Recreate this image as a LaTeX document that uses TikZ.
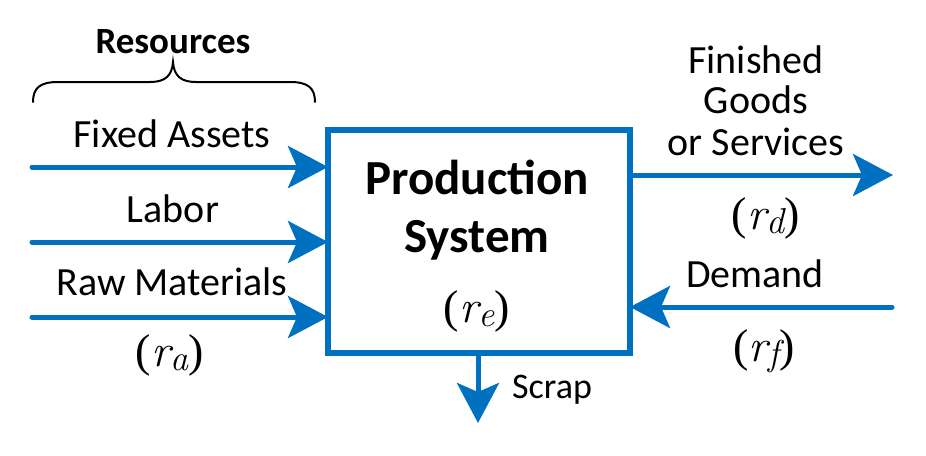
\documentclass[tikz,border=0pt]{standalone}
\usepackage{fontspec}
\setmainfont{Carlito}
\newfontfamily\tms{Liberation Serif}
\newfontfamily\lmi{Latin Modern Roman}
\usetikzlibrary{arrows.meta}
\definecolor{pblue}{RGB}{0,112,192}
\newcommand\rvar[1]{{\fontsize{46}{46}\selectfont\tms(\lmi\itshape r\kern.01em\raisebox{-.1em}{\fontsize{36}{36}\selectfont #1}\tms\upshape)}}
\tikzset{
  flow/.style={draw=pblue, line width=5pt, line cap=round,
    -{Stealth[length=40pt,width=42pt,inset=9pt]}},
  lbl/.style={anchor=base, inner sep=0pt, font=\fontsize{40}{42}\selectfont},
  mathlbl/.style={anchor=base, inner sep=0pt},
  procbox/.style={draw=pblue, line width=6pt, minimum width=302pt, minimum height=223pt, inner sep=0pt, outer sep=0pt}
}
\begin{document}
\begin{tikzpicture}[x=1pt,y=-1pt]
\useasboundingbox (0,0) rectangle (926,455);
% box
\node[procbox] (box) at (479,241.5) {};
\node[anchor=base, inner sep=0pt, font=\bfseries\fontsize{49}{50}\selectfont] (prod) at (477,194) {Production};
\node[anchor=base, inner sep=0pt, font=\bfseries\fontsize{49}{50}\selectfont] (sys) at (477,252) {System};
\node[mathlbl] (re) at (477,322) {\rvar{e}};
% resources
\node[anchor=base, inner sep=0pt, font=\bfseries\fontsize{37}{38}\selectfont] (res) at (173,53) {Resources};
\draw[line width=2pt, line cap=round] (33,102) .. controls (33,88) and (40,82) .. (58,82) -- (150,82) .. controls (165,82) and (172,76) .. (173,62)
  .. controls (174,76) and (181,82) .. (196,82) -- (290,82) .. controls (308,82) and (315,88) .. (315,102);
% inputs
\coordinate (fa) at (32,167);
\coordinate (lb) at (32,242);
\coordinate (rm) at (32,317);
\draw[flow] (fa) -- (fa -| box.west);
\draw[flow] (lb) -- (lb -| box.west);
\draw[flow] (rm) -- (rm -| box.west);
\node[lbl] (fal) at (172,147) {Fixed Assets};
\node[lbl] (lbl) at (173,222) {Labor};
\node[lbl] (rml) at (172,295) {Raw Materials};
\node[mathlbl] (ra) at (170,366) {\rvar{a}};
% output
\coordinate (out) at (893,175);
\draw[flow] (out -| box.east) -- (out);
\node[lbl] (fin1) at (756,73) {Finished};
\node[lbl] (fin2) at (756,113) {Goods};
\node[lbl] (fin3) at (756,155) {or Services};
\node[mathlbl] (rd) at (766,229) {\rvar{d}};
% demand
\coordinate (dem) at (892,307);
\draw[flow] (dem) -- (dem -| box.east);
\node[lbl] (deml) at (755,287) {Demand};
\node[mathlbl] (rf) at (764,361) {\rvar{f}};
% scrap
\coordinate (scr) at (478,423);
\draw[flow] (scr |- box.south) -- (scr);
\node[anchor=base west, inner sep=0pt, font=\fontsize{36}{38}\selectfont] (scrl) at (512,398) {Scrap};
\end{tikzpicture}
\end{document}
